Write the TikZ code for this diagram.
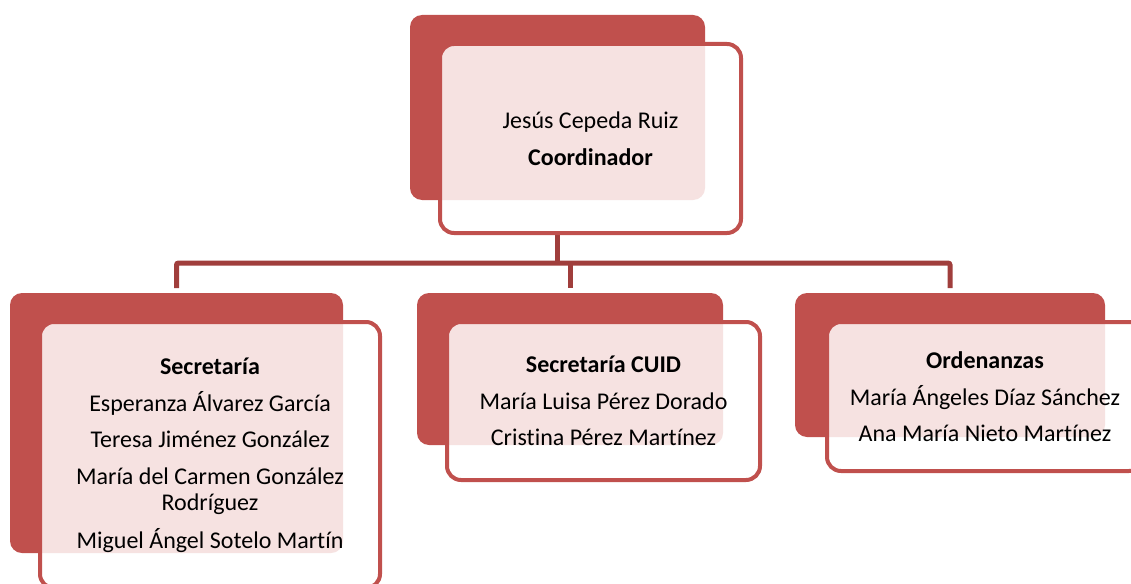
\documentclass[tikz,border=0pt]{standalone}
\usepackage{fontspec}
\setmainfont[Ligatures=NoCommon]{Carlito}
\definecolor{boxred}{RGB}{192,80,77}
\definecolor{linkred}{RGB}{160,62,60}
\definecolor{tint}{RGB}{246,226,225}
\begin{document}
\begin{tikzpicture}[x=1pt,y=-1pt,
  backbox/.style={fill=boxred, rounded corners=12pt, inner sep=0pt, outer sep=0pt, anchor=north west},
  frontbox/.style={fill=white, draw=boxred, line width=4pt, rounded corners=14pt, inner sep=0pt, outer sep=0pt,
    anchor=north west, align=center, font=\fontsize{24}{26}\selectfont,
    path picture={\fill[tint, rounded corners=12pt] (#1.north west) rectangle (#1.south east);}},
  link/.style={draw=linkred, line width=5pt, rounded corners=2pt}]
\useasboundingbox (0,0) rectangle (1131,583);
% back boxes
\node[backbox, minimum width=295pt, minimum height=185pt] (topback) at (410,15) {};
\node[backbox, minimum width=333pt, minimum height=260pt] (leftback) at (10,293) {};
\node[backbox, minimum width=306pt, minimum height=152pt] (midback) at (417,293) {};
\node[backbox, minimum width=310pt, minimum height=144pt] (rightback) at (795,293) {};
% connectors
\coordinate (bus) at (0,263);
\draw[link] (topback.south) -- (topback.south |- bus);
\draw[link] ([yshift=5pt]leftback.north) -- (leftback.north |- bus) -- (rightback.north |- bus) -- ([yshift=5pt]rightback.north);
\draw[link] (midback.north |- bus) -- ([yshift=5pt]midback.north);
% front boxes
\node[frontbox=topback, minimum width=301pt, minimum height=189pt] (topfront) at (440,44)
  {Jesús Cepeda Ruiz\\[11pt]\textbf{Coordinador}};
\node[frontbox=leftback, minimum width=340pt, minimum height=266pt] (leftfront) at (40,322)
  {\textbf{Secretaría}\\[11pt]Esperanza Álvarez García\\[10pt]Teresa Jiménez González\\[11pt]María del Carmen González\\Rodríguez\\[12pt]Miguel Ángel Sotelo Martín};
\node[frontbox=midback, minimum width=313pt, minimum height=158pt] (midfront) at (447,322)
  {\textbf{Secretaría CUID}\\[11pt]María Luisa Pérez Dorado\\[10pt]Cristina Pérez Martínez};
\node[frontbox=rightback, minimum width=316pt, minimum height=149pt] (rightfront) at (827,322)
  {\textbf{Ordenanzas}\\[11pt]María Ángeles Díaz Sánchez\\[10pt]Ana María Nieto Martínez};
\end{tikzpicture}
\end{document}
